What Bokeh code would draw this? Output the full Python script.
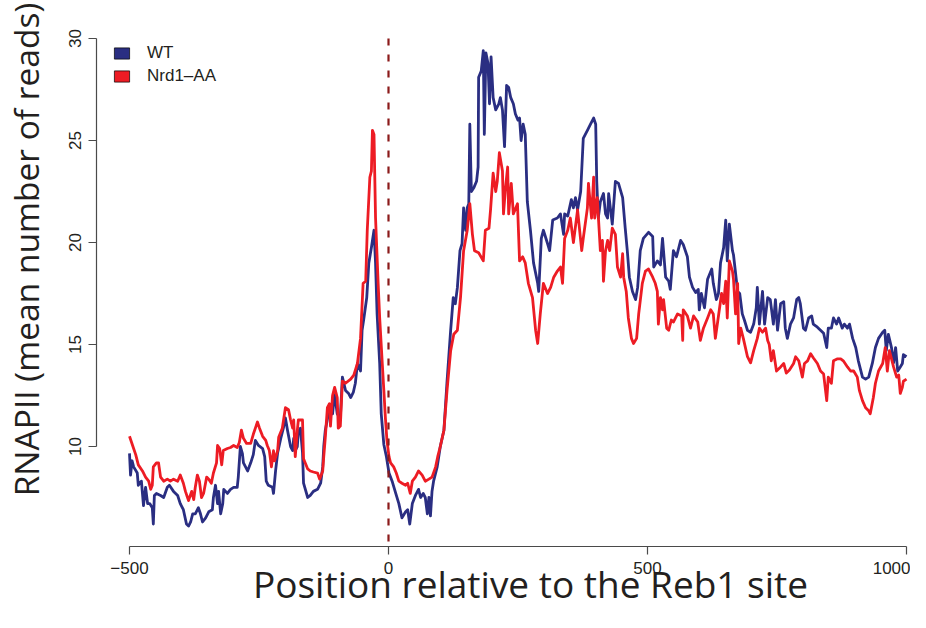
import math
import numpy as np
from bokeh.plotting import figure
from bokeh.models import Range1d, FixedTicker, Legend, LegendItem
from bokeh.core.properties import value
from bokeh.embed import file_html
from bokeh.resources import INLINE

# ---------------- data ----------------
wt_pos = [-500, -498, -495, -492, -485, -483, -477, -475, -473, -469,
          -465, -461, -456, -454, -452, -448, -440, -434, -427, -423,
          -415, -407, -402, -396, -390, -386, -382, -378, -373, -367,
          -363, -359, -353, -347, -340, -338, -334, -330, -328, -324,
          -320, -318, -311, -305, -299, -292, -290, -286, -282, -280,
          -272, -266, -261, -257, -251, -243, -239, -236, -232, -224,
          -222, -218, -214, -208, -203, -199, -195, -189, -185, -183,
          -180, -176, -174, -170, -166, -164, -156, -151, -145, -137,
          -131, -127, -125, -122, -116, -112, -108, -104, -99, -93,
          -89, -83, -77, -73, -68, -64, -60, -54, -51, -48,
          -42, -38, -33, -28, -25, -22, -17, -14, -9, -4,
          1, 7, 14, 20, 26, 33, 37, 41, 46, 52,
          58, 62, 67, 71, 75, 78, 81, 84, 87, 94,
          100, 107, 113, 120, 125, 129, 133, 138, 142, 145,
          149, 152, 155, 157, 160, 165, 170, 173, 174, 179,
          183, 185, 188, 192, 195, 198, 202, 207, 213, 216,
          220, 224, 228, 232, 236, 241, 245, 250, 253, 256,
          260, 264, 268, 274, 280, 288, 290, 295, 299, 307,
          311, 317, 326, 332, 338, 340, 346, 353, 357, 361,
          365, 371, 376, 384, 390, 396, 400, 402, 405, 409,
          415, 419, 423, 425, 432, 438, 444, 452, 457, 461,
          465, 471, 477, 481, 486, 492, 502, 510, 512, 519,
          525, 529, 535, 541, 544, 550, 556, 564, 569, 577,
          581, 587, 593, 598, 600, 604, 610, 616, 624, 627,
          633, 637, 641, 647, 651, 654, 658, 664, 666, 674,
          678, 683, 687, 693, 699, 705, 710, 712, 716, 722,
          726, 732, 737, 743, 747, 751, 757, 763, 766, 770,
          776, 782, 788, 792, 795, 801, 805, 811, 817, 820,
          828, 834, 840, 846, 849, 855, 859, 865, 869, 876,
          880, 886, 890, 896, 902, 907, 915, 921, 927, 934,
          940, 946, 954, 958, 961, 965, 971, 975, 979, 983,
          988, 992, 994, 1000]
wt_val = [9.66, 8.6, 9.3, 9.0, 8.7, 8.1, 8.3, 7.7, 7.1, 8.0,
          7.2, 7.2, 7.0, 6.2, 7.6, 7.7, 7.6, 7.5, 8.0, 8.1,
          7.8, 7.6, 7.2, 6.9, 6.2, 6.1, 6.3, 6.7, 6.7, 7.0,
          6.7, 6.3, 6.5, 6.8, 6.9, 7.5, 8.1, 7.2, 7.8, 6.7,
          7.2, 7.9, 7.7, 7.9, 8.0, 8.0, 8.5, 10.0, 9.65, 9.2,
          8.8, 9.2, 9.6, 10.3, 10.05, 9.9, 9.5, 8.3, 8.1, 8.0,
          7.7, 8.8, 9.7, 10.4, 10.9, 11.4, 10.8, 10.0, 9.8, 10.4,
          9.8, 10.0, 10.7, 10.9, 9.7, 8.2, 7.5, 7.6, 7.8, 7.9,
          8.2, 9.0, 10.0, 10.8, 11.6, 11.9, 11.6, 12.6, 11.6, 11.4,
          13.4, 12.75, 12.6, 12.4, 12.65, 13.1, 14.07, 13.7, 15.7, 16.2,
          17.3, 19.0, 19.75, 20.6, 19.0, 16.5, 14.07, 11.6, 10.1, 9.5,
          8.7, 8.3, 7.7, 7.2, 6.5, 6.8, 6.9, 6.2, 7.2, 7.6,
          7.9, 7.5, 7.7, 7.5, 6.7, 7.5, 6.6, 7.8, 8.3, 9.0,
          10.0, 10.8, 13.2, 15.7, 17.3, 17.0, 17.8, 19.6, 19.95, 21.7,
          20.6, 21.7, 21.9, 25.8, 22.5, 22.7, 23.0, 23.7, 28.1, 28.4,
          29.4, 25.3, 29.3, 28.8, 26.8, 29.1, 27.1, 26.5, 26.8, 27.1,
          26.5, 24.7, 27.7, 27.6, 27.1, 26.8, 26.3, 26.0, 26.1, 25.0,
          25.8, 25.3, 22.0, 20.6, 19.0, 18.0, 17.6, 20.2, 20.6, 19.95,
          19.6, 21.1, 21.2, 21.4, 20.4, 21.4, 21.3, 22.1, 21.7, 22.2,
          21.6, 22.5, 25.1, 25.5, 25.8, 26.1, 25.8, 23.0, 21.2, 22.0,
          22.4, 21.4, 21.2, 22.4, 20.9, 23.0, 22.9, 22.2, 20.7, 19.6,
          18.3, 17.6, 17.2, 17.8, 19.6, 20.2, 20.5, 20.3, 18.8, 19.1,
          18.9, 20.2, 18.3, 18.1, 17.7, 19.6, 19.3, 20.1, 19.9, 19.3,
          18.3, 17.8, 17.55, 17.7, 16.7, 17.5, 16.8, 18.2, 18.7, 18.0,
          17.2, 17.5, 19.0, 19.75, 21.1, 19.1, 20.9, 19.6, 19.4, 17.6,
          17.5, 16.5, 16.2, 15.7, 15.6, 16.0, 16.8, 17.8, 16.0, 17.6,
          16.0, 17.3, 17.2, 16.0, 17.2, 15.7, 17.0, 17.1, 15.8, 15.3,
          16.0, 16.3, 17.2, 17.3, 17.0, 15.8, 15.7, 16.3, 16.4, 16.0,
          15.85, 15.7, 15.55, 14.85, 15.8, 15.8, 16.3, 16.0, 16.3, 15.8,
          16.0, 15.8, 16.0, 15.3, 14.85, 14.2, 13.4, 13.3, 13.4, 14.07,
          14.85, 15.3, 15.6, 15.7, 14.7, 15.5, 14.85, 14.1, 14.85, 13.7,
          13.9, 14.07, 14.5, 14.4]

nrd_pos = [-500, -494, -488, -483, -475, -469, -463, -459, -456, -454,
           -448, -444, -440, -434, -427, -421, -415, -407, -402, -396,
           -392, -388, -386, -380, -376, -373, -369, -365, -361, -357,
           -351, -347, -342, -338, -332, -330, -326, -322, -319, -311,
           -305, -299, -292, -288, -284, -280, -274, -266, -261, -253,
           -249, -243, -237, -234, -230, -226, -222, -220, -214, -212,
           -205, -199, -193, -189, -185, -183, -180, -176, -174, -166,
           -164, -156, -151, -145, -137, -133, -127, -125, -122, -118,
           -114, -112, -108, -104, -99, -97, -93, -89, -83, -73,
           -67, -60, -54, -49, -44, -41, -36, -33, -31, -28,
           -25, -20, -17, -12, -9, -6, -3, 1, 4, 10,
           15, 20, 26, 33, 37, 42, 46, 52, 58, 65,
           71, 78, 84, 91, 95, 100, 107, 113, 120, 126,
           133, 139, 145, 152, 157, 162, 166, 174, 183, 187,
           194, 197, 202, 207, 210, 214, 220, 222, 226, 230,
           232, 237, 241, 249, 253, 259, 264, 270, 278, 284,
           288, 293, 299, 307, 313, 319, 326, 332, 336, 340,
           346, 351, 357, 365, 373, 376, 384, 386, 392, 396,
           398, 403, 409, 413, 415, 419, 423, 427, 432, 438,
           442, 448, 452, 454, 459, 463, 469, 473, 479, 483,
           490, 496, 502, 510, 515, 519, 521, 525, 529, 531,
           537, 541, 546, 550, 558, 566, 568, 569, 577, 583,
           589, 597, 602, 608, 616, 622, 627, 631, 637, 643,
           647, 651, 654, 658, 664, 666, 670, 674, 676, 680,
           685, 693, 699, 705, 712, 716, 722, 728, 732, 735,
           739, 743, 749, 757, 763, 768, 774, 782, 786, 792,
           799, 803, 809, 815, 820, 828, 834, 840, 846, 849,
           855, 859, 867, 873, 878, 886, 892, 898, 905, 909,
           915, 921, 927, 930, 936, 940, 946, 954, 959, 963,
           967, 975, 981, 985, 988, 992, 994, 1000]
nrd_val = [10.5, 10.05, 9.6, 9.1, 8.8, 8.5, 8.3, 7.9, 8.1, 9.0,
           9.2, 9.2, 8.5, 8.3, 8.4, 8.3, 8.4, 8.3, 8.6, 8.2,
           7.8, 7.5, 7.35, 7.8, 7.4, 8.0, 8.6, 8.3, 7.5, 7.7,
           8.5, 8.4, 8.2, 8.7, 9.2, 10.05, 9.9, 9.1, 9.8, 9.9,
           9.95, 10.05, 9.95, 10.2, 10.8, 10.4, 10.15, 10.15, 10.6, 11.2,
           10.9, 10.5, 10.3, 10.05, 9.8, 9.0, 9.8, 9.3, 9.8, 10.45,
           10.9, 11.9, 11.8, 11.3, 10.9, 11.3, 9.5, 10.8, 11.3, 11.3,
           9.4, 8.9, 8.8, 8.75, 8.7, 8.4, 8.8, 9.5, 10.45, 11.9,
           12.1, 11.0, 12.5, 12.9, 12.4, 10.9, 11.0, 13.2, 13.1, 13.3,
           13.5, 14.07, 15.3, 18.0, 18.1, 20.6, 23.2, 23.5, 25.5, 25.3,
           21.2, 18.0, 16.3, 14.07, 12.75, 11.4, 10.3, 9.5, 9.2, 9.0,
           8.7, 8.3, 8.2, 8.1, 8.2, 7.7, 8.3, 8.5, 8.8, 8.6,
           8.3, 8.4, 8.5, 9.0, 9.5, 10.0, 10.8, 12.75, 14.7, 15.5,
           15.7, 17.3, 19.6, 20.6, 21.9, 20.4, 19.6, 19.5, 19.1, 20.6,
           20.7, 21.6, 23.4, 22.5, 23.0, 24.4, 23.5, 21.4, 22.7, 23.7,
           21.4, 22.9, 21.4, 21.9, 19.1, 19.3, 19.0, 18.0, 17.3, 15.7,
           15.05, 16.5, 18.0, 17.5, 17.8, 18.3, 18.6, 18.8, 18.0, 20.2,
           20.6, 21.2, 20.0, 21.6, 19.6, 20.2, 21.7, 22.9, 21.2, 23.2,
           21.2, 22.2, 19.6, 20.1, 18.1, 19.6, 20.1, 19.6, 20.7, 20.4,
           18.8, 18.3, 19.45, 18.3, 17.6, 16.3, 15.3, 15.05, 15.3, 16.5,
           18.0, 18.6, 18.7, 18.3, 18.0, 17.6, 16.0, 17.3, 16.7, 17.2,
           15.8, 15.7, 16.2, 16.1, 16.5, 16.4, 15.2, 16.7, 16.4, 15.8,
           16.4, 16.1, 15.2, 15.8, 16.3, 16.7, 16.5, 15.3, 16.4, 17.5,
           17.0, 18.1, 16.3, 19.1, 18.6, 18.2, 16.5, 18.0, 15.05, 15.8,
           15.3, 14.4, 14.1, 14.7, 15.3, 15.8, 15.6, 15.8, 15.2, 15.0,
           14.2, 14.7, 13.7, 13.9, 14.07, 13.6, 13.75, 14.07, 14.4, 14.2,
           13.4, 14.07, 14.2, 14.55, 14.35, 14.07, 13.7, 13.55, 12.25, 13.4,
           13.1, 14.2, 14.3, 14.3, 14.2, 13.9, 13.7, 13.7, 13.4, 12.75,
           12.25, 11.9, 11.75, 11.6, 12.4, 13.1, 13.7, 14.07, 14.85, 13.7,
           14.7, 13.9, 13.4, 13.5, 12.6, 12.9, 13.2, 13.3]

x_ticks = [-500, 0, 500, 1000]
y_ticks = [10, 15, 20, 25, 30]
series_labels = ["WT", "Nrd1\u2013AA"]
x_title = "Position relative to the Reb1 site"
y_title = "RNAPII (mean number of reads)"

# ---------------- styling / layout ----------------
WT_COLOR = "#2A2E82"
NRD_COLOR = "#ED1C24"
VLINE_COLOR = "#8B1A1A"
TEXT_COLOR = "#231F20"
AXIS_COLOR = "#4A4A4A"

W, H = 910, 612
PX_PER_X = 0.518          # pixels per position unit
PX_PER_Y = 20.4           # pixels per read unit
X0_PX, Y10_PX = 388, 446  # pixel of position 0 and of 10 reads


def xv(px):
    return (px - X0_PX) / PX_PER_X


def yv(py):
    return 10 + (Y10_PX - py) / PX_PER_Y


# the frame covers the whole canvas; axes are drawn at fixed locations
p = figure(width=W, height=H, output_backend="svg", toolbar_location=None,
           x_range=Range1d(xv(0), xv(W)), y_range=Range1d(yv(H), yv(0)),
           min_border_left=0, min_border_right=0, min_border_top=0,
           min_border_bottom=0)
p.outline_line_color = None
p.xgrid.visible = False
p.ygrid.visible = False
p.background_fill_color = "white"
p.border_fill_color = "white"

AXIS_X_AT = xv(96)     # position of the y axis
AXIS_Y_AT = yv(545.5)  # level of the x axis

# data lines
p.line(wt_pos, wt_val, line_color=WT_COLOR, line_width=2.8, line_join="round")
p.line(nrd_pos, nrd_val, line_color=NRD_COLOR, line_width=2.8, line_join="round")

# dashed marker at the Reb1 site, drawn from the top down
p.segment(x0=[0], y0=[y_ticks[-1]], x1=[0], y1=[AXIS_Y_AT],
          line_color=VLINE_COLOR, line_width=2.2, line_dash="7 9")

# legend with filled squares
sq_wt = p.rect(x=[np.nan], y=[np.nan], width=1, height=1,
               fill_color=WT_COLOR, line_color="black", line_width=0.7)
sq_nr = p.rect(x=[np.nan], y=[np.nan], width=1, height=1,
               fill_color=NRD_COLOR, line_color="black", line_width=0.7)
legend = Legend(items=[LegendItem(label=series_labels[0], renderers=[sq_wt]),
                       LegendItem(label=series_labels[1], renderers=[sq_nr])],
                location=(112, H - 47 - 39), margin=0, padding=0,
                glyph_width=19, glyph_height=14, label_height=18, spacing=3,
                label_standoff=16,
                label_text_font="Liberation Sans", label_text_font_size="17px",
                label_text_color=TEXT_COLOR,
                background_fill_alpha=0, border_line_alpha=0)
p.add_layout(legend)

# axes
for ax, ticks in ((p.xaxis[0], x_ticks), (p.yaxis[0], y_ticks)):
    ax.ticker = FixedTicker(ticks=ticks)
    ax.bounds = (ticks[0], ticks[-1])
    ax.minor_tick_line_color = None
    ax.major_tick_in = 0
    ax.major_tick_out = 8
    ax.axis_line_color = AXIS_COLOR
    ax.axis_line_width = 1.2
    ax.major_tick_line_color = AXIS_COLOR
    ax.major_tick_line_width = 1.2
    ax.major_label_text_font = "Liberation Sans"
    ax.major_label_text_font_size = "17px"
    ax.major_label_text_color = TEXT_COLOR

p.xaxis[0].fixed_location = AXIS_Y_AT
p.xaxis[0].major_label_standoff = 8
p.xaxis[0].major_label_overrides = {-500: "\u2212500"}
p.yaxis[0].fixed_location = AXIS_X_AT
p.yaxis[0].major_label_standoff = 8
p.yaxis[0].major_label_orientation = "vertical"

# axis titles (anchors compensate the renderer's baseline offset)
p.text(x=[xv(530)], y=[yv(583)], text=[x_title],
       text_font=value("Open Sans"), text_font_size=value("37px"),
       text_color=TEXT_COLOR, text_align="center", text_baseline="alphabetic")
p.text(x=[xv(25)], y=[yv(249)], text=[y_title], angle=math.pi / 2,
       text_font=value("Open Sans"), text_font_size=value("33.5px"),
       text_color=TEXT_COLOR, text_align="center", text_baseline="alphabetic")

open("out.html", "w").write(file_html(p, INLINE))
